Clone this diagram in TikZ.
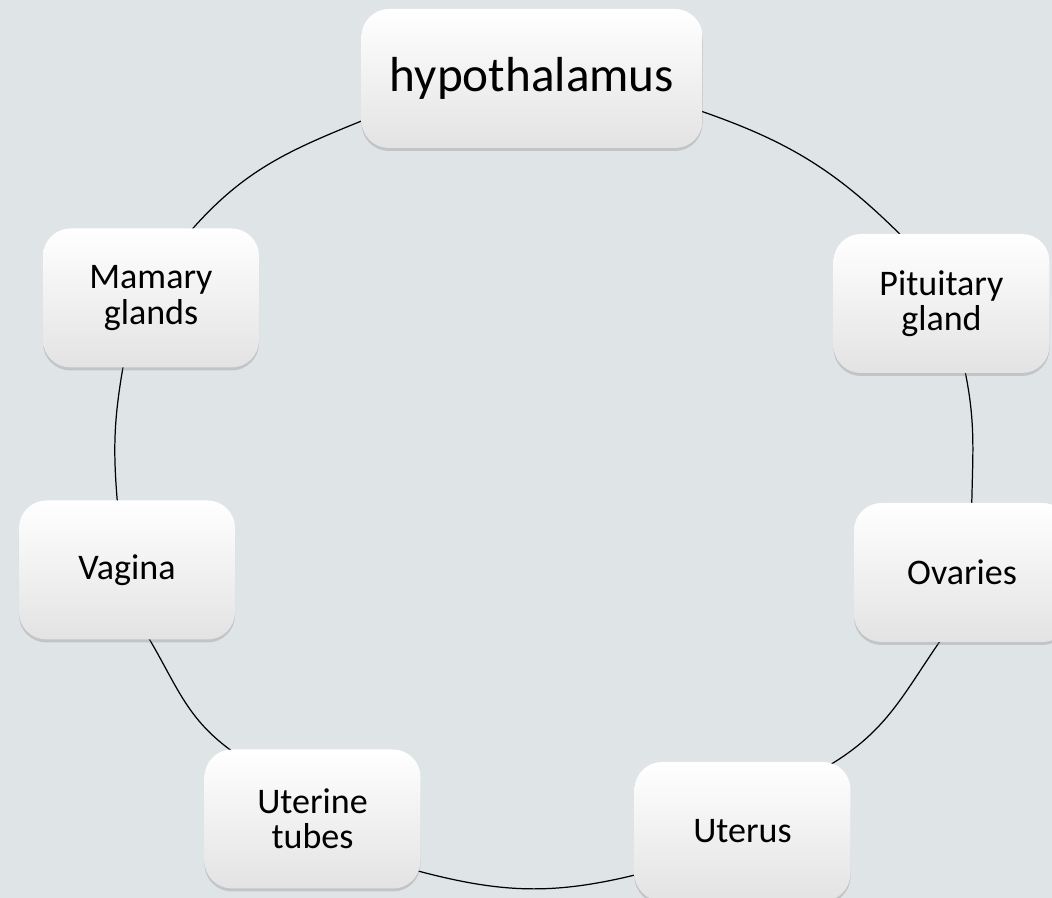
\documentclass[tikz,border=0pt]{standalone}
\usepackage{fontspec}
\setmainfont{Carlito}
\usetikzlibrary{shadows}
\definecolor{slideGray}{RGB}{223,228,230}
\pgfdeclarelayer{background}
\pgfsetlayers{background,main}

\begin{document}
\begin{tikzpicture}[line cap=round, line join=round]
    \tikzset{
        organ/.style={rounded corners=0.55cm, outer sep=0pt, inner sep=2pt,
            minimum width=4.32cm, minimum height=2.78cm, align=center,
            top color=white, middle color=white, bottom color=black!11,
            drop shadow={shadow xshift=0pt, shadow yshift=-0.06cm, opacity=0.3},
            font=\fontsize{20.5}{20}\selectfont},
        cycleArc/.style={draw=black, line width=0.7pt, shorten <=-3pt, shorten >=-3pt}
    }

    % Slide background
    \begin{pgfonlayer}{background}
        \fill[slideGray] (0,0) rectangle (21.04,17.96);
    \end{pgfonlayer}
    \useasboundingbox (0,0) rectangle (21.04,17.96);

    % Organs
    \node[organ, minimum width=6.82cm, font=\fontsize{28}{30}\selectfont] (hyp) at (10.64,16.39) {hypothalamus};
    \node[organ] (pit) at (18.83,11.89) {Pituitary\\gland};
    \node[organ] (ova) at (19.24,6.51) {Ovaries};
    \node[organ] (ute) at (14.85,1.33) {Uterus};
    \node[organ] (utt) at (6.25,1.58) {Uterine\\tubes};
    \node[organ] (vag) at (2.54,6.56) {Vagina};
    \node[organ] (mam) at (3.02,12.00) {Mamary\\glands};

    % Cycle behind the boxes
    \begin{pgfonlayer}{background}
        \draw[cycleArc] (hyp.-11) to[out=-19, in=135] (pit.121);
        \draw[cycleArc] (pit.-71) to[out=-78, in=89] (ova.82);
        \draw[cycleArc] (ova.-108) to[out=-125, in=31] (ute.37);
        \draw[cycleArc] (ute.202) to[out=194, in=-15] (utt.-26);
        \draw[cycleArc] (utt.140) to[out=145, in=-59] (vag.-72);
        \draw[cycleArc] (vag.98) to[out=95, in=-100] (mam.-112);
        \draw[cycleArc] (mam.59) to[out=49, in=202] (hyp.194);
    \end{pgfonlayer}
\end{tikzpicture}
\end{document}
